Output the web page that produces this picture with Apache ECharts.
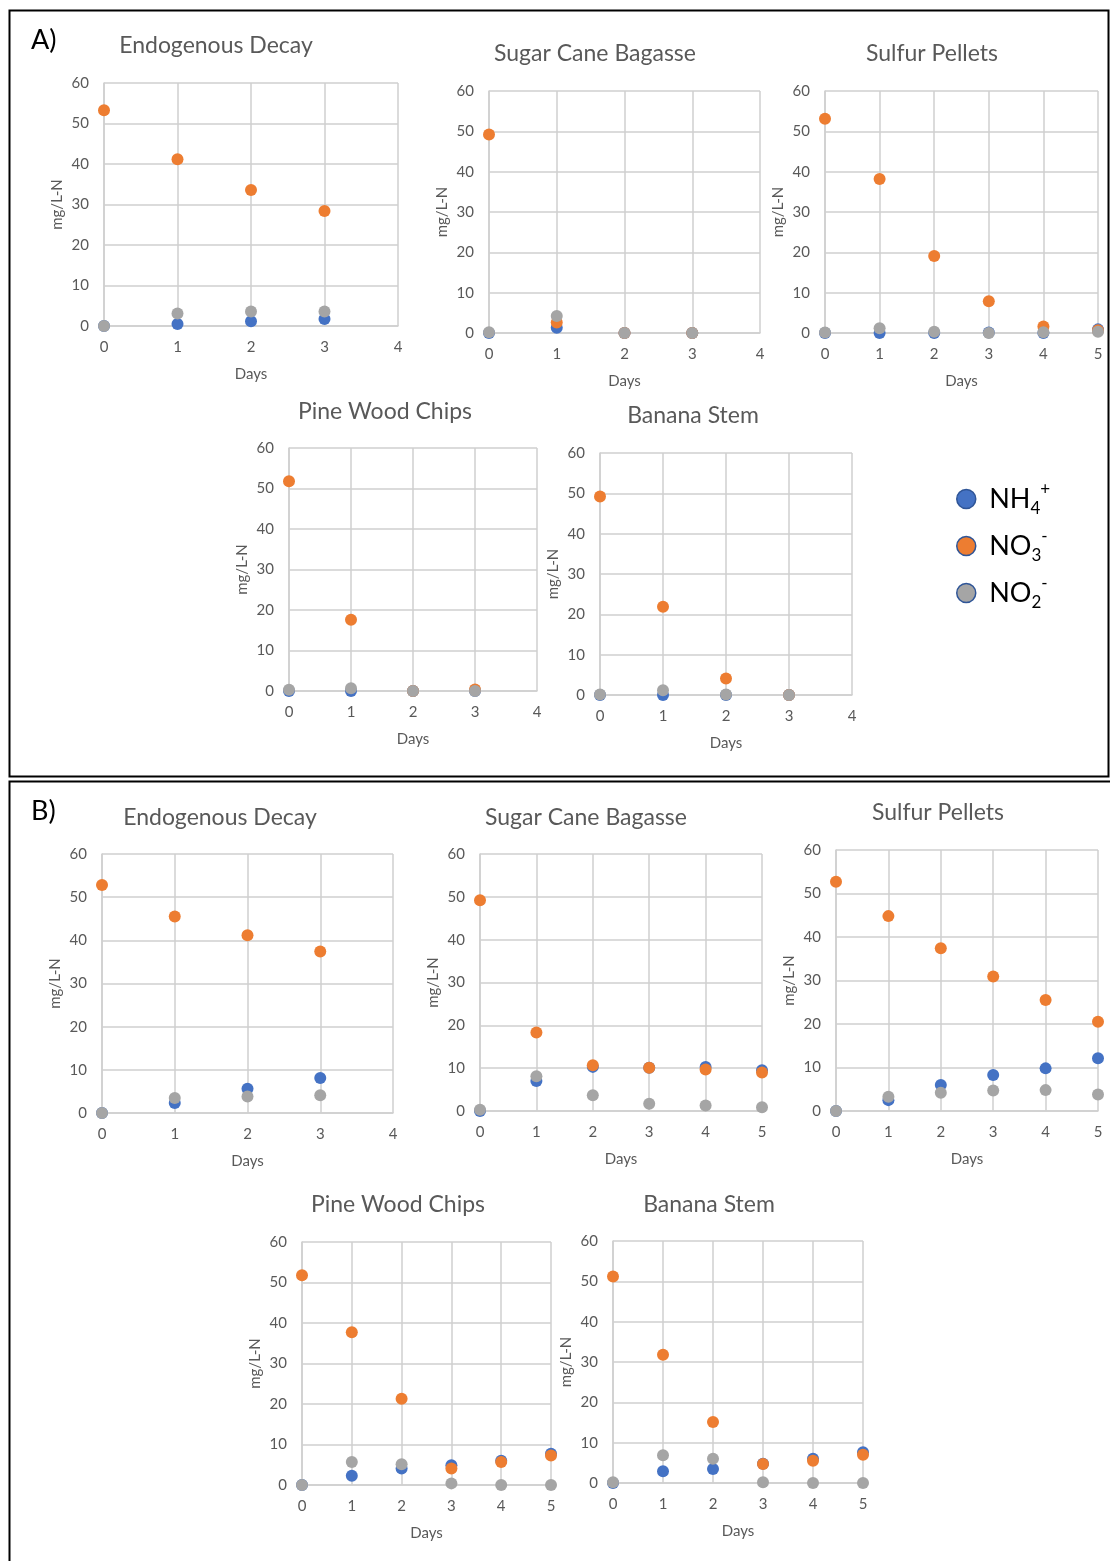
<!DOCTYPE html>
<html>
<head>
<meta charset="utf-8">
<script src="https://cdn.jsdelivr.net/npm/echarts@6/dist/echarts.min.js"></script>
<style>
html, body { margin: 0; padding: 0; background: #fff; }
#main { width: 1110px; height: 1561px; }
</style>
</head>
<body>
<div id="main"></div>
<script>
// 数据
const days4 = [0, 1, 2, 3];
const days6 = [0, 1, 2, 3, 4, 5];
const seriesNames = ['NH4', 'NO3', 'NO2'];

// A) 
const aEndoNH4 = [0, 0.5, 1.15, 1.7];
const aEndoNO3 = [53.3, 41.2, 33.6, 28.4];
const aEndoNO2 = [0, 3.1, 3.6, 3.6];

const aSugarNH4 = [0, 1.3, 0, 0];
const aSugarNO3 = [49.2, 2.6, 0, 0];
const aSugarNO2 = [0.2, 4.2, 0, 0];

const aSulfurNH4 = [0, 0, 0, 0.1, 0, 0.9];
const aSulfurNO3 = [53.1, 38.2, 19.1, 7.9, 1.6, 0.7];
const aSulfurNO2 = [0.1, 1.2, 0.3, 0, 0.2, 0.3];

const aPineNH4 = [0, 0, 0, 0];
const aPineNO3 = [51.8, 17.6, 0, 0.4];
const aPineNO2 = [0.3, 0.7, 0, 0];

const aBananaNH4 = [0, 0, 0, 0];
const aBananaNO3 = [49.2, 21.9, 4.1, 0];
const aBananaNO2 = [0.1, 1.2, 0.1, 0];

// B)
const bEndoNH4 = [0, 2.3, 5.6, 8.1];
const bEndoNO3 = [52.8, 45.5, 41.2, 37.4];
const bEndoNO2 = [0, 3.5, 3.8, 4.1];

const bSugarNH4 = [0, 7.0, 10.3, 10.1, 10.3, 9.5];
const bSugarNO3 = [49.2, 18.3, 10.7, 10.1, 9.7, 9.0];
const bSugarNO2 = [0.3, 8.1, 3.7, 1.7, 1.3, 0.9];

const bSulfurNH4 = [0, 2.5, 6.0, 8.3, 9.8, 12.1];
const bSulfurNO3 = [52.7, 44.8, 37.4, 30.9, 25.5, 20.5];
const bSulfurNO2 = [0, 3.3, 4.2, 4.7, 4.8, 3.8];

const bPineNH4 = [0, 2.3, 4.1, 4.9, 6.0, 7.7];
const bPineNO3 = [51.8, 37.7, 21.3, 4.1, 5.7, 7.3];
const bPineNO2 = [0, 5.7, 5.1, 0.4, 0, 0];

const bBananaNH4 = [0, 2.9, 3.5, 4.8, 6.0, 7.6];
const bBananaNO3 = [51.2, 31.8, 15.1, 4.7, 5.5, 7.0];
const bBananaNO2 = [0.2, 6.9, 6.0, 0.2, 0, 0];

const plots = [
    { title: 'Endogenous Decay', days: days4, xMax: 4, vals: [aEndoNH4, aEndoNO3, aEndoNO2] },
    { title: 'Sugar Cane Bagasse', days: days4, xMax: 4, vals: [aSugarNH4, aSugarNO3, aSugarNO2] },
    { title: 'Sulfur Pellets', days: days6, xMax: 5, vals: [aSulfurNH4, aSulfurNO3, aSulfurNO2] },
    { title: 'Pine Wood Chips', days: days4, xMax: 4, vals: [aPineNH4, aPineNO3, aPineNO2] },
    { title: 'Banana Stem', days: days4, xMax: 4, vals: [aBananaNH4, aBananaNO3, aBananaNO2] },
    { title: 'Endogenous Decay', days: days4, xMax: 4, vals: [bEndoNH4, bEndoNO3, bEndoNO2] },
    { title: 'Sugar Cane Bagasse', days: days6, xMax: 5, vals: [bSugarNH4, bSugarNO3, bSugarNO2] },
    { title: 'Sulfur Pellets', days: days6, xMax: 5, vals: [bSulfurNH4, bSulfurNO3, bSulfurNO2] },
    { title: 'Pine Wood Chips', days: days6, xMax: 5, vals: [bPineNH4, bPineNO3, bPineNO2] },
    { title: 'Banana Stem', days: days6, xMax: 5, vals: [bBananaNH4, bBananaNO3, bBananaNO2] }
];

// layout: plot areas [left, top, right, bottom] and title centres
const boxes = [
    [104, 83, 398, 326], [489, 91, 760, 333], [825, 91, 1098, 333],
    [289, 448, 537, 691], [600, 453, 852, 695],
    [102, 854, 393, 1113], [480, 854, 762, 1111], [836, 850, 1098, 1111],
    [302, 1242, 551, 1485], [613, 1241, 863, 1483]
];
const titlePos = [
    [216, 45], [595, 53], [932, 53], [385, 411], [693, 415],
    [220, 817], [586, 817], [938, 812], [398, 1204], [709, 1204]
];

const colors = { NH4: '#4472C4', NO3: '#ED7D31', NO2: '#A5A5A5' };
const FONT = 'Lato, "Open Sans", sans-serif';
const gray = '#595959';
const gridColor = '#cfcfcf';

const chart = echarts.init(document.getElementById('main'));

const series = [];
plots.forEach(function (p, i) {
    seriesNames.forEach(function (name, k) {
        series.push({
            name: name,
            type: 'scatter',
            xAxisIndex: i,
            yAxisIndex: i,
            symbolSize: 12,
            z: 2 + k,
            itemStyle: { color: colors[name], opacity: 1 },
            data: p.days.map((d, j) => [d, p.vals[k][j]])
        });
    });
});

const legendLabels = {
    NH4: '{b|NH}{s|4}{p|+}',
    NO3: '{b|NO}{s|3}{p|-}',
    NO2: '{b|NO}{s|2}{p|-}'
};

const option = {
    animation: false,
    backgroundColor: '#fff',
    title: plots.map((p, i) => ({
        text: p.title,
        left: titlePos[i][0],
        top: titlePos[i][1] - 11,
        padding: 0,
        textAlign: 'center',
        textStyle: { fontFamily: FONT, fontSize: 23, fontWeight: 'normal', color: gray }
    })),
    legend: {
        orient: 'vertical',
        left: 956,
        top: 481,
        padding: 0,
        itemWidth: 36,
        itemHeight: 19,
        itemGap: 11,
        icon: 'circle',
        data: seriesNames,
        itemStyle: { borderColor: '#2F5597', borderWidth: 1.5, opacity: 1 },
        formatter: name => legendLabels[name],
        textStyle: {
            fontFamily: FONT,
            color: '#000',
            rich: {
                b: { fontFamily: FONT, fontSize: 27, lineHeight: 36, color: '#000' },
                s: { fontFamily: FONT, fontSize: 17, lineHeight: 17, verticalAlign: 'bottom', color: '#000' },
                p: { fontFamily: FONT, fontSize: 17, lineHeight: 17, verticalAlign: 'top', color: '#000' }
            }
        }
    },
    grid: boxes.map(b => ({ left: b[0], top: b[1], width: b[2] - b[0], height: b[3] - b[1] })),
    xAxis: plots.map((p, i) => ({
        type: 'value',
        gridIndex: i,
        min: 0,
        max: p.xMax,
        interval: 1,
        name: 'Days',
        nameLocation: 'middle',
        nameGap: 41,
        nameTextStyle: { fontFamily: FONT, fontSize: 15, color: gray },
        axisLine: { show: true, lineStyle: { color: gridColor, width: 1.5 } },
        axisTick: { show: false },
        axisLabel: { fontFamily: FONT, fontSize: 15, color: gray, margin: 14 },
        splitLine: { show: true, lineStyle: { color: gridColor, width: 1.5 } }
    })),
    yAxis: plots.map((p, i) => ({
        type: 'value',
        gridIndex: i,
        min: 0,
        max: 60,
        interval: 10,
        name: 'mg/L-N',
        nameLocation: 'middle',
        nameRotate: 90,
        nameGap: 39,
        nameTextStyle: { fontFamily: FONT, fontSize: 15, color: gray },
        axisLine: { show: true, lineStyle: { color: gridColor, width: 1.5 } },
        axisTick: { show: false },
        axisLabel: { fontFamily: FONT, fontSize: 15, color: gray, margin: 15 },
        splitLine: { show: true, lineStyle: { color: gridColor, width: 1.5 } }
    })),
    graphic: [
        { type: 'rect', shape: { x: 9.5, y: 10.5, width: 1099, height: 766 },
          style: { fill: null, stroke: '#000', lineWidth: 2 }, z: -1 },
        { type: 'rect', shape: { x: 9.5, y: 781.5, width: 1102, height: 800 },
          style: { fill: null, stroke: '#000', lineWidth: 2 }, z: -1 },
        { type: 'text', left: 31, top: 27,
          style: { text: 'A)', fontFamily: FONT, fontSize: 27, fill: '#000' } },
        { type: 'text', left: 31, top: 798,
          style: { text: 'B)', fontFamily: FONT, fontSize: 27, fill: '#000' } }
    ],
    series: series
};

chart.setOption(option);
</script>
</body>
</html>
